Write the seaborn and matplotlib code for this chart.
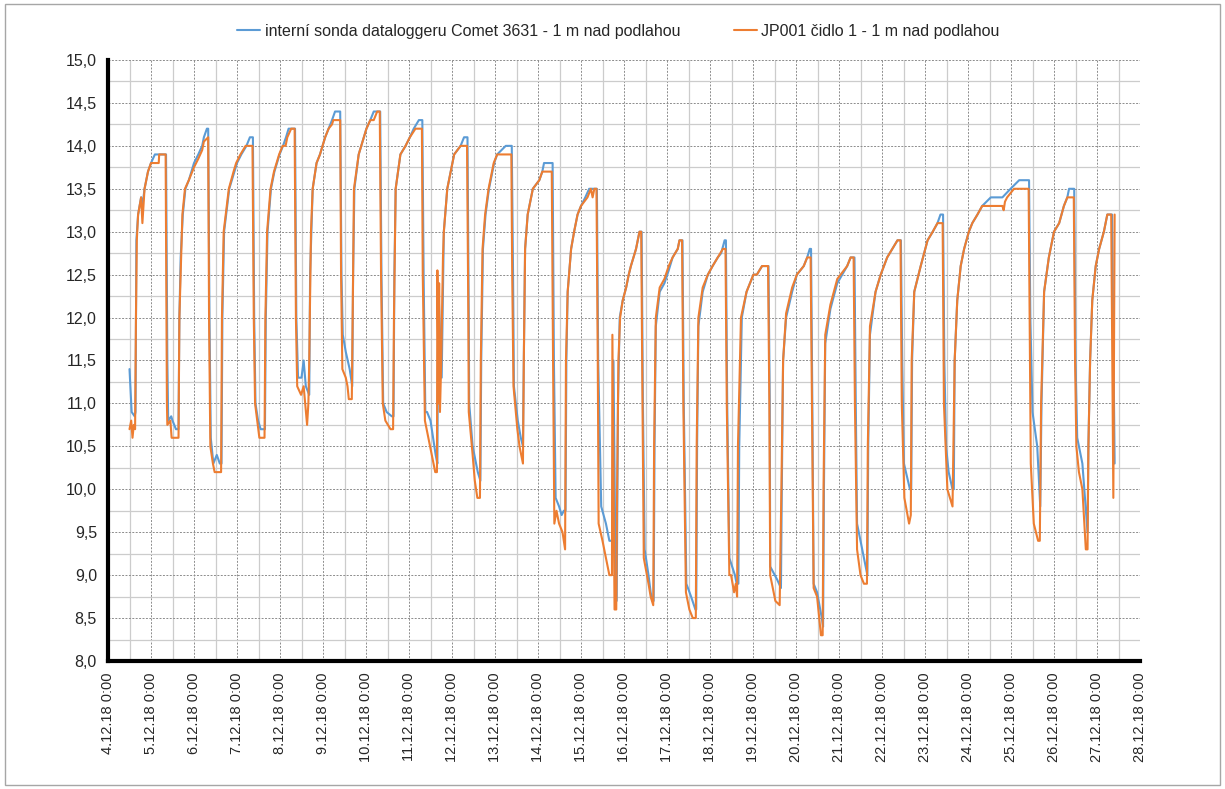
import pandas as pd
import matplotlib
matplotlib.use("Agg")
import matplotlib.pyplot as plt
import matplotlib.dates as mdates
from matplotlib.ticker import MultipleLocator, FuncFormatter
from matplotlib.patches import Rectangle
import seaborn as sns

# cas ve dnech od 4.12.18 0:00, teplota ve °C
blue_t = [0.50, 0.55, 0.62, 0.64, 0.66, 0.70, 0.77, 0.80, 0.85, 0.93, 1.00, 1.09, 1.35, 1.38, 1.40, 1.47, 1.50, 1.58, 1.64,
          1.66, 1.69, 1.74, 1.80, 1.88, 2.00, 2.10, 2.19, 2.23, 2.30, 2.33, 2.36, 2.39, 2.45, 2.53, 2.60, 2.64,
          2.66, 2.70, 2.82, 2.94, 3.00, 3.10, 3.22, 3.30, 3.37, 3.40, 3.43, 3.49, 3.55, 3.65,
          3.67, 3.71, 3.79, 3.87, 3.99, 4.07, 4.14, 4.20, 4.35, 4.38, 4.42, 4.50, 4.55, 4.60, 4.68,
          4.70, 4.76, 4.85, 4.93, 5.05, 5.13, 5.21, 5.28, 5.40, 5.43, 5.46, 5.53, 5.62, 5.68,
          5.70, 5.73, 5.83, 5.95, 6.01, 6.10, 6.18, 6.33, 6.36, 6.40, 6.48, 6.60, 6.64,
          6.66, 6.69, 6.80, 6.92, 7.02, 7.11, 7.23, 7.31, 7.34, 7.38, 7.42, 7.50, 7.62, 7.66,
          7.68, 7.76, 7.78, 7.81, 7.89, 7.97, 8.05, 8.20, 8.28, 8.36, 8.39, 8.40, 8.48, 8.60, 8.66,
          8.68, 8.72, 8.78, 8.86, 8.98, 9.05, 9.25, 9.39, 9.42, 9.44, 9.53, 9.60, 9.65,
          9.67, 9.70, 9.76, 9.88, 10.03, 10.10, 10.14, 10.34, 10.37, 10.41, 10.49, 10.55, 10.60, 10.64,
          10.66, 10.69, 10.77, 10.84, 10.92, 11.00, 11.10, 11.19, 11.37, 11.40, 11.47, 11.58, 11.66, 11.73,
          11.755, 11.81, 11.83, 11.84, 11.86, 11.90, 11.97, 12.05, 12.11, 12.16, 12.22, 12.28, 12.32, 12.36, 12.41,
          12.44, 12.48, 12.57, 12.62, 12.66, 12.69, 12.71, 12.74, 12.83, 12.94, 13.04, 13.13, 13.25, 13.29, 13.36,
          13.39, 13.45, 13.56, 13.66, 13.68, 13.70, 13.73, 13.83, 13.95, 14.06, 14.18, 14.26, 14.34, 14.37,
          14.40, 14.45, 14.58, 14.62, 14.66, 14.68, 14.74, 14.85, 15.01, 15.09, 15.21, 15.36,
          15.39, 15.40, 15.56, 15.65, 15.67, 15.70, 15.77, 15.91, 16.02, 16.18, 16.26, 16.32, 16.35,
          16.38, 16.41, 16.49, 16.60, 16.63, 16.65, 16.68, 16.80, 16.96, 17.19, 17.27, 17.36,
          17.39, 17.42, 17.54, 17.66, 17.68, 17.72, 17.85, 17.97, 18.12, 18.24, 18.36, 18.44,
          18.47, 18.51, 18.65, 18.68, 18.70, 18.75, 18.90, 19.06, 19.18, 19.29, 19.36, 19.42,
          19.45, 19.49, 19.55, 19.64, 19.67, 19.69, 19.75, 19.83, 19.91, 20.02, 20.10, 20.22, 20.33, 20.53,
          20.80, 20.99, 21.19, 21.42, 21.45, 21.50, 21.61, 21.68, 21.71, 21.77, 21.88, 22.00, 22.12, 22.23,
          22.31, 22.35, 22.47, 22.50, 22.54, 22.66, 22.78, 22.80, 22.84, 22.89, 22.97, 23.05, 23.16, 23.24,
          23.35, 23.41]
blue_v = [11.4, 10.9, 10.85, 10.9, 12.9, 13.2, 13.4, 13.3, 13.5, 13.7, 13.8, 13.9, 13.9, 11.5, 10.8, 10.85, 10.8, 10.7, 10.7,
          12.0, 12.7, 13.2, 13.5, 13.6, 13.8, 13.9, 14.0, 14.1, 14.2, 14.2, 12.0, 10.6, 10.3, 10.4, 10.3, 10.3,
          12.0, 13.0, 13.5, 13.7, 13.8, 13.9, 14.0, 14.1, 14.1, 12.0, 11.0, 10.8, 10.7, 10.7,
          12.0, 13.0, 13.5, 13.7, 13.9, 14.0, 14.1, 14.2, 14.2, 12.0, 11.3, 11.3, 11.5, 11.2, 11.1,
          12.5, 13.5, 13.8, 13.9, 14.1, 14.2, 14.3, 14.4, 14.4, 12.5, 11.8, 11.6, 11.4, 11.2,
          12.5, 13.5, 13.9, 14.1, 14.2, 14.3, 14.4, 14.4, 12.5, 11.0, 10.9, 10.85, 10.85,
          12.5, 13.5, 13.9, 14.0, 14.1, 14.2, 14.3, 14.3, 12.5, 10.9, 10.9, 10.8, 10.4, 10.3,
          12.4, 11.3, 12.0, 13.0, 13.5, 13.7, 13.9, 14.0, 14.1, 14.1, 12.0, 11.0, 10.5, 10.2, 10.1,
          11.5, 12.8, 13.2, 13.5, 13.8, 13.9, 14.0, 14.0, 12.5, 11.2, 10.8, 10.6, 10.5,
          11.5, 12.8, 13.2, 13.5, 13.6, 13.7, 13.8, 13.8, 11.5, 9.9, 9.8, 9.7, 9.75, 9.75,
          11.5, 12.3, 12.8, 13.0, 13.2, 13.3, 13.4, 13.5, 13.5, 11.5, 9.8, 9.6, 9.4, 9.4,
          11.5, 8.7, 8.7, 9.5, 11.0, 12.0, 12.2, 12.35, 12.5, 12.6, 12.7, 12.8, 12.9, 13.0, 13.0,
          11.0, 9.3, 9.0, 8.8, 8.7, 8.7, 10.5, 11.9, 12.3, 12.4, 12.55, 12.7, 12.8, 12.9, 12.9,
          11.0, 8.9, 8.75, 8.6, 8.6, 10.5, 11.9, 12.3, 12.5, 12.6, 12.7, 12.75, 12.9, 12.9,
          11.0, 9.2, 9.0, 8.9, 8.9, 10.5, 12.0, 12.3, 12.5, 12.5, 12.6, 12.6,
          11.0, 9.1, 8.95, 8.85, 10.0, 11.5, 12.0, 12.3, 12.5, 12.6, 12.7, 12.8, 12.8,
          11.0, 8.9, 8.8, 8.5, 8.4, 10.0, 11.7, 12.1, 12.4, 12.6, 12.7, 12.7,
          11.0, 9.6, 9.3, 9.0, 10.5, 11.8, 12.3, 12.5, 12.7, 12.8, 12.9, 12.9,
          11.5, 10.3, 10.0, 10.0, 11.5, 12.3, 12.6, 12.9, 13.0, 13.1, 13.2, 13.2,
          11.5, 10.5, 10.2, 10.0, 10.0, 11.5, 12.2, 12.6, 12.8, 13.0, 13.1, 13.2, 13.3, 13.4,
          13.4, 13.5, 13.6, 13.6, 12.0, 10.9, 10.5, 9.8, 11.0, 12.3, 12.7, 13.0, 13.1, 13.3,
          13.4, 13.5, 13.5, 11.5, 10.6, 10.3, 9.5, 10.5, 11.5, 12.2, 12.6, 12.8, 13.0, 13.2,
          13.2, 10.3]

orange_t = [0.50, 0.54, 0.57, 0.60, 0.63, 0.65, 0.67, 0.70, 0.77, 0.80, 0.85, 0.93, 1.00, 1.18, 1.19, 1.34,
            1.37, 1.38, 1.45, 1.48, 1.64, 1.66, 1.69, 1.73, 1.79, 1.88, 2.00, 2.10, 2.19, 2.23, 2.33,
            2.35, 2.38, 2.44, 2.48, 2.63, 2.65, 2.69, 2.81, 2.92, 2.98, 3.08, 3.20, 3.36,
            3.39, 3.42, 3.47, 3.52, 3.64, 3.66, 3.70, 3.78, 3.86, 3.98, 4.06, 4.13, 4.17, 4.26, 4.34,
            4.37, 4.40, 4.49, 4.55, 4.63, 4.66, 4.68, 4.72, 4.76, 4.85, 4.93, 5.05, 5.13, 5.21, 5.24, 5.40,
            5.42, 5.45, 5.53, 5.57, 5.60, 5.67, 5.69, 5.72, 5.83, 5.95, 6.01, 6.10, 6.18, 6.26, 6.32,
            6.35, 6.39, 6.45, 6.57, 6.63, 6.65, 6.69, 6.80, 6.92, 7.02, 7.15, 7.30,
            7.32, 7.37, 7.45, 7.53, 7.61, 7.65, 7.66, 7.69, 7.70, 7.72, 7.75, 7.79, 7.81, 7.89, 7.97, 8.05, 8.20, 8.35,
            8.38, 8.39, 8.48, 8.53, 8.59, 8.65, 8.67, 8.71, 8.77, 8.85, 8.97, 9.05, 9.38,
            9.40, 9.43, 9.52, 9.57, 9.65, 9.67, 9.70, 9.76, 9.88, 10.03, 10.10, 10.32,
            10.35, 10.38, 10.43, 10.49, 10.57, 10.63, 10.65, 10.69, 10.77, 10.84, 10.92, 11.00, 11.15, 11.23, 11.27, 11.31, 11.36,
            11.39, 11.41, 11.50, 11.58, 11.66, 11.72, 11.73, 11.78, 11.82, 11.84, 11.87, 11.91, 11.97, 12.05, 12.11,
            12.16, 12.22, 12.28, 12.32, 12.36, 12.40,
            12.43, 12.46, 12.57, 12.62, 12.68, 12.70, 12.74, 12.83, 12.94, 13.04, 13.13, 13.25, 13.29, 13.35,
            13.38, 13.44, 13.52, 13.60, 13.67, 13.69, 13.73, 13.83, 13.95, 14.06, 14.18, 14.30, 14.36,
            14.39, 14.45, 14.49, 14.56, 14.60, 14.63, 14.65, 14.72, 14.85, 15.01, 15.09, 15.21, 15.35,
            15.38, 15.40, 15.52, 15.62, 15.66, 15.70, 15.77, 15.91, 16.02, 16.18, 16.26, 16.34,
            16.37, 16.41, 16.49, 16.58, 16.62, 16.64, 16.68, 16.80, 16.96, 17.19, 17.27, 17.34,
            17.37, 17.42, 17.50, 17.58, 17.65, 17.67, 17.72, 17.85, 17.97, 18.12, 18.24, 18.36, 18.43,
            18.46, 18.52, 18.63, 18.67, 18.69, 18.75, 18.90, 19.06, 19.18, 19.29, 19.41,
            19.44, 19.52, 19.64, 19.66, 19.69, 19.75, 19.83, 19.91, 20.02, 20.10, 20.22, 20.33, 20.80,
            20.83, 20.86, 20.91, 21.07, 21.41, 21.44, 21.46, 21.53, 21.63, 21.67, 21.70, 21.77, 21.88,
            22.00, 22.12, 22.23, 22.31, 22.46, 22.49, 22.52, 22.58, 22.66, 22.74, 22.78, 22.80, 22.84,
            22.89, 22.97, 23.05, 23.16, 23.24, 23.33, 23.38, 23.41]
orange_v = [10.7, 10.8, 10.6, 10.75, 10.7, 12.0, 12.9, 13.2, 13.4, 13.1, 13.5, 13.7, 13.8, 13.8, 13.9, 13.9,
            11.0, 10.75, 10.8, 10.6, 10.6, 12.0, 12.5, 13.2, 13.5, 13.6, 13.75, 13.85, 13.95, 14.05, 14.1,
            12.0, 10.5, 10.3, 10.2, 10.2, 12.0, 13.0, 13.5, 13.7, 13.8, 13.9, 14.0, 14.0,
            12.0, 11.0, 10.8, 10.6, 10.6, 12.0, 13.0, 13.5, 13.7, 13.9, 14.0, 14.0, 14.1, 14.2, 14.2,
            12.0, 11.2, 11.1, 11.2, 10.75, 11.0, 11.5, 13.0, 13.5, 13.8, 13.9, 14.1, 14.2, 14.25, 14.3, 14.3,
            12.5, 11.4, 11.3, 11.2, 11.05, 11.05, 12.0, 13.5, 13.9, 14.1, 14.2, 14.3, 14.3, 14.4, 14.4,
            12.5, 11.0, 10.8, 10.7, 10.7, 12.0, 13.5, 13.9, 14.0, 14.1, 14.2, 14.2,
            12.5, 10.8, 10.6, 10.4, 10.2, 10.2, 12.55, 11.0, 12.4, 10.9, 11.5, 12.7, 13.0, 13.5, 13.7, 13.9, 14.0, 14.0,
            12.0, 10.9, 10.4, 10.1, 9.9, 9.9, 11.5, 12.8, 13.2, 13.5, 13.8, 13.9, 13.9,
            12.5, 11.2, 10.7, 10.5, 10.3, 11.5, 12.8, 13.2, 13.5, 13.6, 13.7, 13.7,
            11.5, 9.6, 9.75, 9.6, 9.5, 9.3, 11.5, 12.3, 12.8, 13.0, 13.2, 13.3, 13.4, 13.5, 13.4, 13.5, 13.5,
            11.5, 9.6, 9.4, 9.2, 9.0, 9.0, 11.8, 8.6, 8.6, 10.0, 11.5, 12.0, 12.2, 12.35, 12.5,
            12.6, 12.7, 12.8, 12.9, 13.0, 13.0,
            11.0, 9.2, 8.9, 8.75, 8.65, 10.5, 12.0, 12.35, 12.45, 12.6, 12.7, 12.8, 12.9, 12.9,
            11.0, 8.8, 8.6, 8.5, 8.5, 10.5, 12.0, 12.35, 12.5, 12.6, 12.7, 12.8, 12.8,
            11.0, 9.0, 9.0, 8.8, 8.9, 8.75, 10.5, 12.0, 12.3, 12.5, 12.5, 12.6, 12.6,
            11.0, 9.0, 8.7, 8.65, 10.0, 11.5, 12.05, 12.35, 12.5, 12.6, 12.7, 12.7,
            11.0, 8.85, 8.75, 8.3, 8.3, 10.0, 11.8, 12.15, 12.45, 12.6, 12.7, 12.7,
            11.0, 9.3, 9.0, 8.9, 8.9, 10.5, 11.9, 12.3, 12.5, 12.7, 12.8, 12.9, 12.9,
            11.0, 9.9, 9.6, 9.7, 11.5, 12.3, 12.6, 12.9, 13.0, 13.1, 13.1,
            11.0, 10.0, 9.8, 10.5, 11.5, 12.2, 12.6, 12.8, 13.0, 13.1, 13.2, 13.3, 13.3,
            13.25, 13.35, 13.4, 13.5, 13.5, 11.5, 10.3, 9.6, 9.4, 9.4, 11.0, 12.3, 12.7,
            13.0, 13.1, 13.3, 13.4, 13.4, 11.5, 10.5, 10.2, 10.0, 9.3, 9.3, 10.5, 11.5,
            12.2, 12.6, 12.8, 13.0, 13.2, 13.2, 9.9, 13.2]

series_names = ["interní sonda dataloggeru Comet 3631 - 1 m nad podlahou",
                "JP001 čidlo 1 - 1 m nad podlahou"]
colors = ["#5B9BD5", "#ED7D31"]

start = pd.Timestamp("2018-12-04 00:00")
end = pd.Timestamp("2018-12-28 00:00")

df = pd.concat([
    pd.DataFrame({"cas": start + pd.to_timedelta(blue_t, unit="D"), "teplota": blue_v, "cidlo": series_names[0]}),
    pd.DataFrame({"cas": start + pd.to_timedelta(orange_t, unit="D"), "teplota": orange_v, "cidlo": series_names[1]}),
], ignore_index=True)

sns.set_style("white")
narrow = ["Liberation Sans Narrow", "Liberation Sans", "DejaVu Sans"]
plt.rcParams["font.family"] = ["Liberation Sans", "DejaVu Sans"]

fig = plt.figure(figsize=(12.25, 7.89), dpi=100)
ax = fig.add_axes([108 / 1225, 1 - 661 / 789, (1140 - 108) / 1225, (661 - 60) / 789])

sns.lineplot(data=df, x="cas", y="teplota", hue="cidlo", palette=colors,
             estimator=None, sort=False, linewidth=1.5, ax=ax)

ax.set_xlim(start, end)
ax.set_ylim(8, 15)
ax.set_xlabel("")
ax.set_ylabel("")

ax.xaxis.set_major_locator(mdates.DayLocator())
ax.xaxis.set_minor_locator(mdates.HourLocator(byhour=[12]))
ax.xaxis.set_major_formatter(FuncFormatter(
    lambda x, pos: (lambda d: f"{d.day}.{d.month}.{d:%y} {d.hour}:{d:%M}")(mdates.num2date(x))))
ax.yaxis.set_major_locator(MultipleLocator(0.5))
ax.yaxis.set_minor_locator(MultipleLocator(0.25))
ax.yaxis.set_major_formatter(FuncFormatter(lambda y, pos: f"{y:.1f}".replace(".", ",")))

ax.grid(which="minor", color="#cccccc", linewidth=0.9, linestyle="-")
ax.grid(which="major", color="#8c8c8c", linewidth=0.7, linestyle=(0, (2, 1.5)))
ax.set_axisbelow(True)

for s in ["top", "right"]:
    ax.spines[s].set_visible(False)
for s in ["left", "bottom"]:
    ax.spines[s].set_color("black")
    ax.spines[s].set_linewidth(3)

ax.tick_params(axis="both", which="major", direction="out", length=4, width=3, color="black")
ax.tick_params(axis="both", which="minor", length=0)
ax.tick_params(axis="x", labelrotation=90, labelsize=10.5, pad=4)
ax.tick_params(axis="y", labelsize=11.5, pad=4)
for lab in ax.get_yticklabels():
    lab.set_family(narrow)

handles, labels = ax.get_legend_handles_labels()
ax.get_legend().remove()
fig.legend(handles, labels, loc="center", bbox_to_anchor=(0.505, 0.96), ncol=2, frameon=False,
           prop={"family": narrow, "size": 11.5}, handlelength=1.4, handletextpad=0.3, columnspacing=3.4)

fig.patches.append(Rectangle((0.004, 0.005), 0.992, 0.99, transform=fig.transFigure,
                             fill=False, edgecolor="#a6a6a6", linewidth=1))

fig.savefig("out.png", dpi=100)
